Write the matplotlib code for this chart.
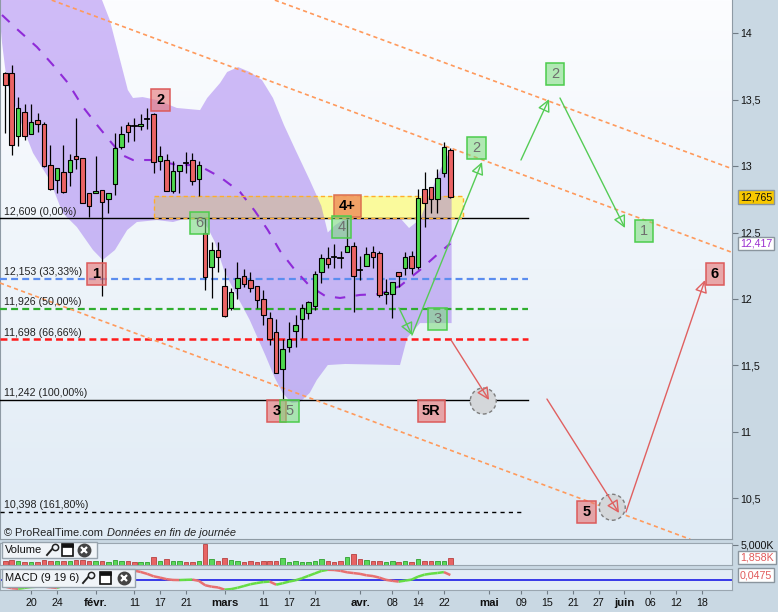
import numpy as np
import matplotlib
matplotlib.use("Agg")
import matplotlib.pyplot as plt
from matplotlib.patches import Rectangle, Polygon, Ellipse
from matplotlib.collections import LineCollection
from matplotlib.lines import Line2D
import matplotlib.transforms as mtransforms

plt.rcParams['font.family'] = ['Liberation Sans', 'DejaVu Sans']
plt.rcParams['lines.scale_dashes'] = False

W, H = 778, 612

# ---------------- daily candles (trading-day index 0 = 14 Jan 2019) ----------------
opens = [13.70, 13.70, 13.23, 13.405, 13.24, 13.345, 13.32, 13.01, 12.895, 12.955,
         12.955, 13.075, 13.06, 12.795, 12.795, 12.82, 12.75, 12.865, 13.145, 13.31,
         13.305, 13.305, 13.35, 13.39, 13.035, 13.045, 12.815, 12.96, 13.03, 13.045,
         12.90, 12.495, 12.24, 12.365, 12.10, 11.93, 12.08, 12.175, 12.14, 12.10,
         12.00, 11.86, 11.75, 11.47, 11.635, 11.76, 11.845, 11.895, 11.95, 12.20,
         12.305, 12.32, 12.312, 12.35, 12.40, 12.218, 12.25, 12.35, 12.345, 12.035,
         12.035, 12.20, 12.23, 12.325, 12.24, 12.825, 12.845, 12.75, 12.945, 13.125]
highs = [13.71, 13.76, 13.52, 13.47, 13.47, 13.40, 13.33, 13.16, 12.985, 13.16,
         13.095, 13.365, 13.06, 12.795, 13.075, 12.82, 12.80, 13.25, 13.30, 13.335,
         13.365, 13.39, 13.435, 13.40, 13.15, 13.09, 13.035, 13.005, 13.105, 13.10,
         13.035, 12.609, 12.425, 12.43, 12.23, 12.08, 12.275, 12.225, 12.20, 12.10,
         12.065, 11.905, 11.845, 11.695, 11.825, 11.88, 11.965, 11.985, 12.21, 12.34,
         12.39, 12.41, 12.36, 12.60, 12.43, 12.325, 12.39, 12.395, 12.36, 12.15,
         12.125, 12.20, 12.35, 12.36, 12.83, 12.955, 12.845, 12.98, 13.18, 13.14]
lows = [13.25, 13.08, 13.15, 13.20, 13.24, 13.255, 12.99, 12.82, 12.80, 12.795,
        12.85, 12.98, 12.72, 12.62, 12.795, 12.02, 12.65, 12.78, 13.13, 13.18,
        13.19, 13.275, 13.28, 12.945, 12.97, 12.815, 12.80, 12.795, 12.95, 12.86,
        12.775, 12.065, 12.01, 12.205, 11.865, 11.915, 12.00, 12.09, 12.05, 11.935,
        11.80, 11.65, 11.44, 11.242, 11.60, 11.64, 11.705, 11.845, 11.915, 12.12,
        12.23, 12.23, 12.23, 12.35, 11.905, 12.145, 12.245, 12.235, 12.015, 11.965,
        11.855, 12.09, 12.18, 12.185, 12.225, 12.545, 12.645, 12.645, 12.92, 12.76]
closes = [13.61, 13.16, 13.44, 13.23, 13.33, 13.32, 13.00, 12.825, 12.985, 12.805,
          13.045, 13.05, 12.72, 12.70, 12.81, 12.73, 12.80, 13.135, 13.245, 13.255,
          13.30, 13.32, 13.352, 13.03, 13.075, 12.815, 12.965, 13.005, 13.025, 12.89,
          13.005, 12.165, 12.365, 12.315, 11.87, 12.05, 12.16, 12.11, 12.08, 11.99,
          11.88, 11.695, 11.445, 11.62, 11.70, 11.805, 11.93, 11.975, 12.185, 12.305,
          12.26, 12.318, 12.31, 12.395, 12.175, 12.215, 12.335, 12.315, 12.03, 12.05,
          12.125, 12.175, 12.315, 12.23, 12.76, 12.725, 12.75, 12.91, 13.145, 12.765]
volumes_k = [1100, 1200, 900, 800, 700, 800, 1150, 1100, 1000, 1100,
             950, 1150, 1200, 1100, 900, 1050, 850, 1300, 1000, 900,
             750, 700, 750, 1900, 1000, 1500, 1100, 950, 850, 850,
             950, 5150, 1500, 1100, 1700, 1300, 1100, 850, 1000, 800,
             950, 1000, 1050, 1650, 850, 1000, 800, 850, 1100, 1500,
             1000, 750, 900, 2000, 2700, 1500, 1200, 900, 1100, 850,
             1000, 800, 1050, 700, 1500, 1000, 1000, 1000, 1100, 1858]
macd = [-0.058, -0.072, -0.077, -0.069, -0.061, -0.058, -0.057, -0.064, -0.069, -0.050,
        -0.025, 0.000, 0.020, 0.038, 0.052, 0.064, 0.075, 0.084, 0.091, 0.095,
        0.087, 0.075, 0.058, 0.036, 0.024, 0.010, 0.003, 0.002, 0.004, 0.006,
        -0.005, -0.045, -0.058, -0.065, -0.085, -0.080, -0.068, -0.052, -0.036, -0.025,
        -0.016, -0.012, -0.040, -0.027, -0.012, 0.000, 0.018, 0.040, 0.062, 0.084,
        0.095, 0.093, 0.085, 0.072, 0.065, 0.058, 0.045, 0.038, 0.024, 0.004,
        -0.005, -0.012, -0.003, 0.006, 0.033, 0.051, 0.060, 0.066, 0.074, 0.0475]

# envelope (upper / lower) and its centre average, as (index, price) knots
band_upper_x = [-0.82, 8, 15.0, 16.2, 19.0, 19.8, 21.3, 23.5, 26.6, 30.2, 31.3, 33.3, 34.4, 36.1,
                37.9, 39.8, 41.5, 43.2, 45.0, 47.2, 49.0, 50.0, 51.0, 52.5, 61.2, 62.6, 64.3,
                65.8, 67.4, 69.2]
band_upper_y = [15.2, 14.8, 14.25, 14.10, 13.573, 13.513, 13.520, 13.498, 13.438, 13.422, 13.513,
                13.626, 13.709, 13.746, 13.709, 13.648, 13.513, 13.310, 13.121, 12.895, 12.70,
                12.50, 12.55, 12.60, 12.61, 12.534, 12.60, 12.783, 12.971, 13.136]
band_lower_x = [-0.82, -0.5, 0.26, 2.28, 4.3, 6.9, 8.9, 11.1, 13.6, 15.1, 17.0, 18.9, 20.4, 23.5,
                26.0, 28.2, 30.2, 31.4, 32.5, 34.0, 35.6, 37.9, 40.3, 41.8, 43.0, 44.4, 45.7,
                47.2, 48.3, 50.0, 52.7, 61.2, 62.3, 64.3, 69.2]
band_lower_y = [14.10, 13.927, 13.626, 13.347, 13.099, 12.895, 12.647, 12.541, 12.368, 12.293,
                12.368, 12.519, 12.579, 12.594, 12.579, 12.609, 12.602, 12.534, 12.428, 12.203,
                12.052, 11.841, 11.578, 11.404, 11.292, 11.216, 11.224, 11.292, 11.39, 11.502,
                11.51, 11.502, 11.706, 11.818, 11.818]
avg_x = [-0.51, 1.97, 4.91, 7.40, 9.72, 12.05, 14.22, 16.5, 18.09, 19.8, 22.9, 26.8, 29.9, 33.3,
         36.4, 38.7, 40.7, 42.6, 44.9, 47.2, 49.6, 51.9, 55.0, 58.1, 61.2, 64.3, 66.9, 69.0]
avg_y = [14.138, 14.025, 13.897, 13.761, 13.626, 13.445, 13.310, 13.174, 13.084, 13.046, 13.046,
         13.008, 13.008, 12.918, 12.805, 12.662, 12.519, 12.361, 12.218, 12.097, 12.022, 12.007,
         12.030, 12.037, 12.097, 12.218, 12.331, 12.417]

# Fibonacci retracement levels
fib_levels = [12.609, 12.153, 11.926, 11.698, 11.242, 10.398]
fib_pcts = ["0,00%", "33,33%", "50,00%", "66,66%", "100,00%", "161,80%"]

# channel lines: (start index, start price, end index, end price)
channels = [(7.2, 14.25, 112.7, 12.35), (41.8, 14.25, 112.7, 12.98), (-0.82, 12.12, 106.2, 10.19)]

# zone rectangle (index range and price range)
zone_x = (23.1, 70.9)
zone_y = (12.609, 12.777)

# wave labels: text, index, price, kind
wave_labels = [("1", 14.14, 12.184, "red"), ("2", 24.06, 13.496, "red"),
               ("6", 30.11, 12.569, "green"), ("4+", 53.05, 12.697, "orange"),
               ("4", 52.12, 12.539, "green"), ("3", 42.08, 11.156, "red"),
               ("5", 44.06, 11.156, "green"), ("5R", 66.05, 11.156, "red"),
               ("3", 67.0, 11.847, "green"), ("2", 73.05, 13.134, "green"),
               ("2", 85.2, 13.694, "green"), ("1", 99.0, 12.511, "green"),
               ("6", 110.0, 12.188, "red"), ("5", 90.1, 10.399, "red")]
green_arrows = [((61.04, 11.932), (63.05, 11.728)), ((63.05, 11.728), (73.91, 13.031)),
                ((79.95, 13.046), (84.3, 13.505)), ((86.0, 13.513), (96.08, 12.534))]
red_arrows = [((69.1, 11.691), (75.0, 11.239)), ((83.98, 11.246), (95.15, 10.388)),
              ((96.23, 10.395), (108.48, 12.142))]
target_circles = [(74.1, 11.231), (94.1, 10.431)]

date_ticks = [4, 8, 14, 20, 24, 28, 34, 40, 44, 48, 55, 60, 64, 68, 75, 80, 84, 88, 92, 96, 100, 104, 108]
date_labels = ["20", "24", "févr.", "11", "17", "21", "mars", "11", "17", "21", "avr.", "08", "14",
               "22", "mai", "09", "15", "21", "27", "juin", "06", "12", "18"]
month_names = {"févr.", "mars", "avr.", "mai", "juin"}
price_ticks = [10.5, 11, 11.5, 12, 12.5, 13, 13.5, 14]

last_close = closes[-1]
last_avg = avg_y[-1]
last_volume = volumes_k[-1]
last_macd = macd[-1]

# ---------------- figure layout ----------------
XMIN, XMAX = -0.82, 112.67
YMIN, YMAX = 10.192, 14.251
fig = plt.figure(figsize=(W / 100, H / 100), dpi=100, facecolor='#c9d8e3')
ax = fig.add_axes([0, 1 - 539 / H, 732 / W, 539 / H])
axv = fig.add_axes([0, 1 - 565 / H, 732 / W, 22 / H])
axm = fig.add_axes([0, 1 - 590 / H, 732 / W, 21 / H])

px_x = (XMAX - XMIN) / 732.0
px_y = (YMAX - YMIN) / 539.0

# background gradient
t = np.linspace(0, 1, 256)[:, None, None]
top_c = np.array([252, 253, 255]) / 255.0
bot_c = np.array([224, 235, 245]) / 255.0
grad = top_c * (1 - t) + bot_c * t
ax.imshow(grad, extent=[XMIN, XMAX, YMIN, YMAX], aspect='auto', zorder=0, interpolation='bilinear')

# zone rectangle
ax.add_patch(Rectangle((zone_x[0], zone_y[0]), zone_x[1] - zone_x[0], zone_y[1] - zone_y[0],
                       fc='#fafa9c', ec='none', zorder=1))
# envelope
poly = list(zip(band_upper_x, band_upper_y)) + list(zip(band_lower_x[::-1], band_lower_y[::-1]))
ax.add_patch(Polygon(poly, closed=True, fc=(130 / 255, 72 / 255, 235 / 255), alpha=0.36, ec='none', zorder=2))
ax.add_patch(Rectangle((zone_x[0], zone_y[0]), zone_x[1] - zone_x[0], zone_y[1] - zone_y[0],
                       fc='none', ec='#ffad2a', lw=1.0, ls=(0, (3, 2.2)), zorder=4))

# Fibonacci levels
fib_styles = [('#000000', '-', 1.0, 81.0), ('#5b8def', (0, (5, 3)), 1.6, 81.0),
              ('#2fae2f', (0, (5, 3)), 1.6, 81.0), ('#ff1a1a', (0, (5, 3)), 1.8, 81.0),
              ('#000000', '-', 1.0, 81.0), ('#000000', (0, (3, 3)), 1.0, 80.6)]
lbl_tr = mtransforms.offset_copy(mtransforms.blended_transform_factory(ax.transAxes, ax.transData),
                                 fig=fig, x=0, y=1.5, units='dots')
for lvl, pct, (col, ls, lw, xend) in zip(fib_levels, fib_pcts, fib_styles):
    ax.plot([XMIN, xend], [lvl, lvl], color=col, ls=ls, lw=lw, zorder=3)
    ax.text(4 / 732, lvl, f"{lvl:.3f}".replace('.', ',') + f" ({pct})", transform=lbl_tr,
            fontsize=7.7, va='bottom', ha='left', color='#222222', zorder=7)

# channel lines
for x0, y0, x1, y1 in channels:
    ax.plot([x0, x1], [y0, y1], color='#ff9a5c', ls=(0, (3, 2.4)), lw=1.2, zorder=3)

# centre average
ax.plot(avg_x, avg_y, color='#8f2bd8', ls=(0, (7.5, 7.5)), lw=1.5, zorder=3)

# candles
for i, (o, h, l, c) in enumerate(zip(opens, highs, lows, closes)):
    ax.plot([i, i], [l, h], color='black', lw=0.9, zorder=5, solid_capstyle='butt')
    if abs(c - o) < 0.006:
        ax.plot([i - 0.35, i + 0.35], [c, c], color='black', lw=1.3, zorder=6)
    else:
        col = '#4fd94f' if c > o else '#eb6464'
        ax.add_patch(Rectangle((i - 0.35, min(o, c)), 0.7, abs(c - o), fc=col, ec='black', lw=0.8, zorder=6))


# arrows
def arrow(p0, p1, col):
    ax.annotate("", xy=p1, xytext=p0,
                arrowprops=dict(arrowstyle="-|>,head_length=0.75,head_width=0.38", ec=col, fc='none',
                                lw=1.0, shrinkA=0, shrinkB=0, mutation_scale=10), zorder=4)


for p0, p1 in green_arrows:
    arrow(p0, p1, '#55cc55')
for cx, cy in target_circles:
    ax.add_patch(Ellipse((cx, cy), 26 * px_x, 26 * px_y, fc='#d4d7da', ec='#7d7d7d', lw=1.0,
                         ls=(0, (2.5, 2)), zorder=4))
for p0, p1 in red_arrows:
    arrow(p0, p1, '#e06060')

# wave label boxes
box_style = {"red": ((0.90, 0.45, 0.45, 0.6), '#dc5a5a', 'black', 'bold'),
             "green": ((0.47, 0.86, 0.47, 0.55), '#4ccc4c', '#6e6e6e', 'normal'),
             "orange": ((0.94, 0.60, 0.38, 0.9), '#dc7050', 'black', 'bold')}
for txt, bx, by, kind in wave_labels:
    fc, ec, tc, fw = box_style[kind]
    wpx = 18.5 if len(txt) == 1 else 27.0
    ax.add_patch(Rectangle((bx - wpx * px_x / 2, by - 11 * px_y), wpx * px_x, 22 * px_y,
                           fc=fc, ec=ec, lw=1.1, zorder=8))
    ax.text(bx, by, txt, fontsize=10.5, fontweight=fw, color=tc, ha='center', va='center', zorder=9)

ax.set_xlim(XMIN, XMAX)
ax.set_ylim(YMIN, YMAX)
ax.set_xticks([])
ax.yaxis.tick_right()
ax.set_yticks(price_ticks)
ax.set_yticklabels([(f"{v:g}").replace('.', ',') for v in price_ticks])
ax.tick_params(axis='y', direction='out', length=4, width=0.8, color='#6f7b85', pad=2,
               labelsize=7.7, labelcolor='#111111')
for s in ax.spines.values():
    s.set_color('#8e9aa4')
ax.spines['top'].set_visible(False)

right_tr = mtransforms.blended_transform_factory(ax.transAxes, ax.transData)
ax.text(740 / 732, last_close, f"{last_close:.3f}".replace('.', ','), transform=right_tr, fontsize=7.7,
        va='center', ha='left', color='#111111',
        bbox=dict(boxstyle='square,pad=0.18', fc='#f8c800', ec='#8a959e', lw=1))
ax.text(740 / 732, last_avg, f"{last_avg:.3f}".replace('.', ','), transform=right_tr, fontsize=7.7,
        va='center', ha='left', color='#9b30d0',
        bbox=dict(boxstyle='square,pad=0.18', fc='white', ec='#8a959e', lw=1))

fig.text(4 / W, 1 - 533 / H, "© ProRealTime.com", fontsize=7.9, va='center', ha='left', color='#222222')
fig.text(107 / W, 1 - 533 / H, "Données en fin de journée", fontsize=7.9, style='italic',
         va='center', ha='left', color='#222222')

# ---------------- volume panel ----------------
axv.set_facecolor('#e3edf6')
for i, v in enumerate(volumes_k):
    up = closes[i] >= opens[i]
    axv.bar(i, v, width=0.7, color='#5ad85a' if up else '#e86464',
            edgecolor='#2f9e2f' if up else '#b84040', lw=0.6)
axv.set_xlim(XMIN, XMAX)
axv.set_ylim(0, 5500)
axv.set_xticks([])
axv.yaxis.tick_right()
axv.set_yticks([5000])
axv.set_yticklabels(["5,000K"])
axv.tick_params(axis='y', direction='out', length=4, width=0.8, color='#6f7b85', pad=2,
                labelsize=7.7, labelcolor='#111111')
for s in axv.spines.values():
    s.set_color('#9aa6b0')
vtr = mtransforms.blended_transform_factory(axv.transAxes, axv.transData)
axv.text(740 / 732, last_volume, f"{last_volume / 1000:.3f}K".replace('.', ','), transform=vtr,
         fontsize=7.7, va='center', ha='left', color='#e05a5a',
         bbox=dict(boxstyle='square,pad=0.18', fc='white', ec='#8a959e', lw=1))

# ---------------- MACD panel ----------------
axm.set_facecolor('#e3edf6')
axm.axhline(0, color='#1a1ae6', lw=1.2)
segs = [[(i, macd[i]), (i + 1, macd[i + 1])] for i in range(len(macd) - 1)]
seg_cols = ['#66dd44' if macd[i + 1] >= macd[i] else '#e87070' for i in range(len(macd) - 1)]
axm.add_collection(LineCollection(segs, colors=seg_cols, linewidths=1.8))
axm.set_xlim(XMIN, XMAX)
axm.set_ylim(-0.088, 0.102)
axm.set_yticks([])
axm.set_xticks(date_ticks)
axm.set_xticklabels(date_labels)
axm.tick_params(axis='x', direction='out', length=3, width=0.8, color='#6f7b85', pad=3,
                labelsize=7.7, labelcolor='#111111')
for lab in axm.get_xticklabels():
    if lab.get_text() in month_names:
        lab.set_fontweight('bold')
        lab.set_fontsize(8.2)
for s in axm.spines.values():
    s.set_color('#9aa6b0')
mtr = mtransforms.blended_transform_factory(axm.transAxes, axm.transData)
axm.text(740 / 732, last_macd, f"{last_macd:.4f}".replace('.', ','), transform=mtr,
         fontsize=7.7, va='center', ha='left', color='#e05a5a',
         bbox=dict(boxstyle='square,pad=0.18', fc='white', ec='#8a959e', lw=1))


# ---------------- panel title widgets ----------------
def fx(x):
    return x / W


def fy(y):
    return 1 - y / H


def widget(x0, y0, x1, y1, label, wrench_x, win_x, close_x):
    fig.add_artist(Rectangle((fx(x0), fy(y1)), (x1 - x0) / W, (y1 - y0) / H, transform=fig.transFigure,
                             fc='#f0f4f8', ec='#97a3ad', lw=1, zorder=20))
    yc = (y0 + y1) / 2
    fig.text(fx(x0 + 3), fy(yc), label, fontsize=8, va='center', ha='left', color='#111111', zorder=21)
    # wrench
    fig.add_artist(Line2D([fx(wrench_x), fx(wrench_x + 6)], [fy(yc + 5), fy(yc - 2)],
                          transform=fig.transFigure, color='#222222', lw=1.4, zorder=21))
    fig.add_artist(Line2D([fx(wrench_x + 7.5)], [fy(yc - 3.5)], transform=fig.transFigure, marker='o',
                          ms=4.5, mfc='#f0f4f8', mec='#222222', mew=1.1, zorder=21))
    # window
    fig.add_artist(Rectangle((fx(win_x), fy(yc + 6)), 11 / W, 12 / H, transform=fig.transFigure,
                             fc='white', ec='#111111', lw=1.2, zorder=21))
    fig.add_artist(Rectangle((fx(win_x), fy(yc - 3)), 11 / W, 3 / H, transform=fig.transFigure,
                             fc='#111111', ec='#111111', lw=0.5, zorder=22))
    # close
    fig.add_artist(Line2D([fx(close_x)], [fy(yc)], transform=fig.transFigure, marker='o', ms=9,
                          mfc='#444444', mec='#444444', zorder=21))
    fig.add_artist(Line2D([fx(close_x)], [fy(yc)], transform=fig.transFigure, marker='x', ms=4,
                          mec='white', mew=1.6, zorder=22))


widget(1.7, 542, 96.7, 558, "Volume", 47, 62, 84)
widget(1.7, 569, 135, 587, "MACD (9 19 6)", 83, 100, 124)

fig.savefig("out.png", dpi=100, facecolor=fig.get_facecolor())
